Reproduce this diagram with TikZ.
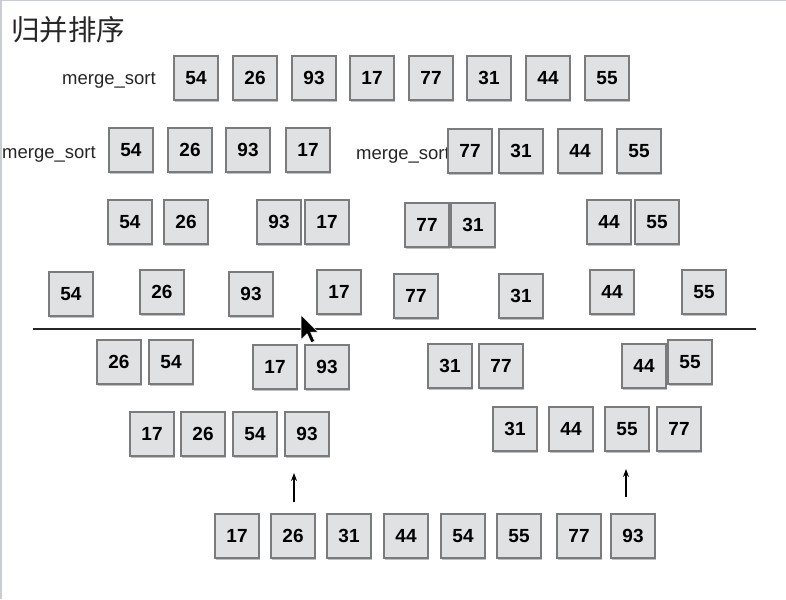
\documentclass[tikz,border=0pt]{standalone}
\usepackage{fontspec}
\setmainfont{Liberation Sans}
\newfontfamily\cjk{Noto Sans CJK SC}
\usetikzlibrary{shadows,arrows.meta}
\definecolor{boxfill}{HTML}{E0E1E3}
\definecolor{boxline}{HTML}{7A7B7D}
\definecolor{edgegray}{HTML}{C9CDD2}
\tikzset{
  numbox/.style={draw=boxline, fill=boxfill, line width=1.2pt,
    minimum width=44pt, minimum height=44pt, inner sep=0pt,
    font=\fontsize{19}{19}\selectfont\bfseries,
    drop shadow={shadow xshift=0.6pt, shadow yshift=-1.6pt, opacity=0.35, fill=black!70}},
  lbl/.style={inner sep=0pt, font=\fontsize{18.5}{18.5}\selectfont, text=black!85},
  uparrow/.style={-{Stealth[length=8pt,width=6pt]}, line width=1.3pt, black},
}
\begin{document}
\begin{tikzpicture}[x=1pt,y=-1pt]
\useasboundingbox (0,0) rectangle (786,599);
\fill[white] (0,0) rectangle (786,599);
\draw[edgegray, line width=2.5pt] (0,0) -- (786,0);
\draw[edgegray, line width=2pt] (0.5,0) -- (0.5,599);
% title
\node[anchor=west, inner sep=0pt, font=\cjk\fontsize{28.5}{28.5}\selectfont, text=black!85] (title) at (11,30) {归并排序};
% labels
\node[lbl, anchor=base east] (ms1) at (156,85) {merge\_sort};
\node[lbl, anchor=base west] (ms2) at (2,158) {merge\_sort};
\node[lbl, anchor=base east] (ms3) at (450,159) {merge\_sort};
% row 1
\node[numbox] (a1) at (196,78) {54};
\node[numbox] (a2) at (255,78) {26};
\node[numbox] (a3) at (314,78) {93};
\node[numbox] (a4) at (372,78) {17};
\node[numbox] (a5) at (431,78) {77};
\node[numbox] (a6) at (489,78) {31};
\node[numbox] (a7) at (548,78) {44};
\node[numbox] (a8) at (607,78) {55};
% row 2
\node[numbox] (b1) at (131,150) {54};
\node[numbox] (b2) at (190,150) {26};
\node[numbox] (b3) at (248,150) {93};
\node[numbox] (b4) at (308,150) {17};
\node[numbox] (b5) at (470,151) {77};
\node[numbox] (b6) at (521,151) {31};
\node[numbox] (b7) at (580,151) {44};
\node[numbox] (b8) at (639,151) {55};
% row 3
\node[numbox] (c1) at (130,222) {54};
\node[numbox] (c2) at (186,222) {26};
\node[numbox] (c3) at (279,222) {93};
\node[numbox] (c4) at (327,222) {17};
\node[numbox] (c5) at (427,225) {77};
\node[numbox] (c6) at (473,225) {31};
\node[numbox] (c7) at (609,222) {44};
\node[numbox] (c8) at (657,222) {55};
% row 4
\node[numbox] (d1) at (71,294) {54};
\node[numbox] (d2) at (162,292) {26};
\node[numbox] (d3) at (251,294) {93};
\node[numbox] (d4) at (339,292) {17};
\node[numbox] (d5) at (416,296) {77};
\node[numbox] (d6) at (521,296) {31};
\node[numbox] (d7) at (612,292) {44};
\node[numbox] (d8) at (704,292) {55};
% divider
\coordinate (lineL) at (33,329);
\coordinate (lineR) at (756,329);
\draw[line width=1.2pt, black!85] (lineL) -- (lineR);
% row 5
\node[numbox] (e1) at (119,362) {26};
\node[numbox] (e2) at (171,362) {54};
\node[numbox] (e3) at (275,367) {17};
\node[numbox] (e4) at (327,367) {93};
\node[numbox] (e5) at (450,366) {31};
\node[numbox] (e6) at (501,366) {77};
\node[numbox] (e7) at (644,366) {44};
\node[numbox] (e8) at (690,362) {55};
% row 6
\node[numbox] (f1) at (152,434) {17};
\node[numbox] (f2) at (203,434) {26};
\node[numbox] (f3) at (255,434) {54};
\node[numbox] (f4) at (307,434) {93};
\node[numbox] (f5) at (515,429) {31};
\node[numbox] (f6) at (571,429) {44};
\node[numbox] (f7) at (627,429) {55};
\node[numbox] (f8) at (679,429) {77};
% row 7
\node[numbox] (g1) at (237,536) {17};
\node[numbox] (g2) at (293,536) {26};
\node[numbox] (g3) at (349,536) {31};
\node[numbox] (g4) at (406,536) {44};
\node[numbox] (g5) at (463,536) {54};
\node[numbox] (g6) at (519,536) {55};
\node[numbox] (g7) at (579,536) {77};
\node[numbox] (g8) at (633,536) {93};
% arrows
\coordinate (p1s) at (294,502);
\coordinate (p1e) at (294,473);
\coordinate (p2s) at (626,497);
\coordinate (p2e) at (626,469);
\draw[uparrow] (p1s) -- (p1e);
\draw[uparrow] (p2s) -- (p2e);
% mouse cursor
\begin{scope}[shift={(301,315)}, scale=1.5]
\fill[black, draw=white, line width=0.6pt, line join=round]
  (0,0) -- (0,16.5) -- (4,12.5) -- (6.8,18.5) -- (9.2,17.4) -- (6.4,11.4) -- (11.4,11.4) -- cycle;
\end{scope}
\end{tikzpicture}
\end{document}
